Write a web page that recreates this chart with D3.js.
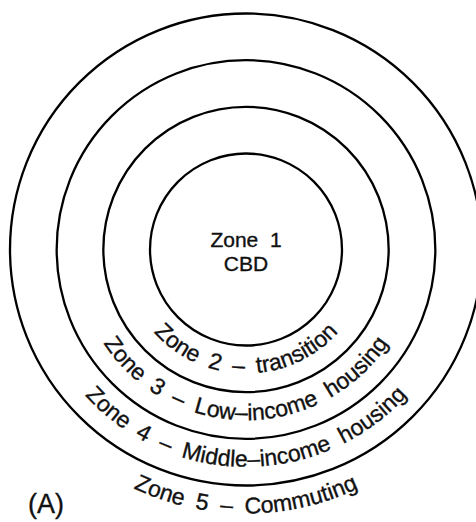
<!DOCTYPE html>
<html>
<head>
<meta charset="utf-8">
<script src="https://cdn.jsdelivr.net/npm/d3@7"></script>
<style>
  body { margin: 0; background: #fff; }
  text { font-family: "Liberation Sans", Arial, sans-serif; fill: #111; stroke: #111; stroke-width: 0.35px; }
</style>
</head>
<body>
<script>
// zones of the concentric model (zone 1 is the centre)
var zoneIds = [1, 2, 3, 4, 5];
var zoneNames = ["CBD", "transition", "Low\u2013income housing", "Middle\u2013income housing", "Commuting"];
// ring boundaries drawn as circles (outer edge of zones 1-4)
var ringBounds = [1, 2, 3, 4];
var panelLabel = "(A)";

var width = 476,
    height = 522,
    cx = 246,
    cy = 249.5;

// boundary index -> pixel radius
var r = d3.scaleLinear().domain([1, 4]).range([96, 236]);

var svg = d3.select("body").append("svg")
    .attr("width", width)
    .attr("height", height);

var defs = svg.append("defs");
var g = svg.append("g")
    .attr("transform", "translate(" + cx + "," + cy + ")");

// the rings
g.selectAll("circle.ring")
    .data(ringBounds)
  .enter().append("circle")
    .attr("class", "ring")
    .attr("r", function(d) { return r(d); })
    .attr("fill", "none")
    .attr("stroke", "#000")
    .attr("stroke-width", 2.3);

// centre label
g.append("text")
    .attr("text-anchor", "middle")
    .attr("y", -3)
    .style("font-size", "21px")
    .text("Zone\u00a0 " + zoneIds[0]);
g.append("text")
    .attr("text-anchor", "middle")
    .attr("y", 21)
    .style("font-size", "21px")
    .text(zoneNames[0]);

// curved labels along the bottom of each band
var outer = zoneIds.slice(1);

// half circle from left to right through the bottom
function bottomArc(rad) {
  return "M" + (-rad) + ",0 A" + rad + "," + rad + " 0 0 0 " + rad + ",0";
}

defs.selectAll("path")
    .data(outer)
  .enter().append("path")
    .attr("id", function(d) { return "arc" + d; })
    .attr("d", function(d) { return bottomArc(r(d - 0.4)); });

g.selectAll("text.zone")
    .data(outer)
  .enter().append("text")
    .attr("class", "zone")
    .style("font-size", "23px")
    .style("word-spacing", "6px")
  .append("textPath")
    .attr("href", function(d) { return "#arc" + d; })
    .attr("startOffset", "50%")
    .attr("text-anchor", "middle")
    .text(function(d) { return "Zone " + d + " \u2013 " + zoneNames[d - 1]; });

// panel letter
svg.append("text")
    .attr("x", 28)
    .attr("y", 513)
    .style("font-size", "27px")
    .text(panelLabel);
</script>
</body>
</html>
